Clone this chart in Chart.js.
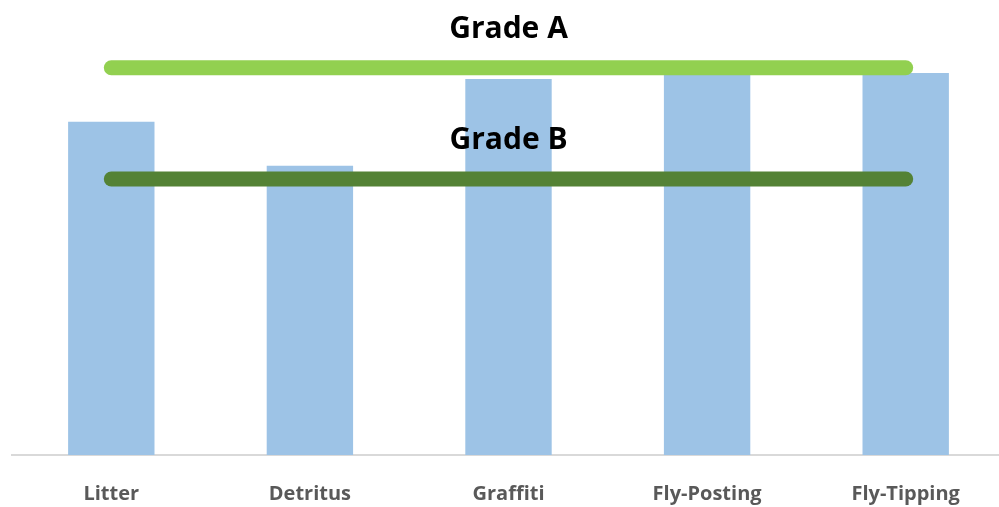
<!DOCTYPE html>
<html>
<head>
<meta charset="utf-8">
<script src="https://cdn.jsdelivr.net/npm/chart.js@4"></script>
<style>
  html, body { margin: 0; padding: 0; background: #fff; overflow: hidden; }
</style>
</head>
<body>
<canvas id="gradeChart" width="1005" height="507"></canvas>
<script>
const categories = ['Litter', 'Detritus', 'Graffiti', 'Fly-Posting', 'Fly-Tipping'];
const scores = [83.3, 72.3, 94, 96, 95.5];
const gradeA = [96.8, 96.8, 96.8, 96.8, 96.8];
const gradeB = [69, 69, 69, 69, 69];

// writes "Grade A" / "Grade B" above the middle of each line
const gradeLabels = {
    id: 'gradeLabels',
    afterDatasetsDraw(chart) {
        const ctx = chart.ctx;
        ctx.save();
        ctx.font = 'bold 30px "Open Sans"';
        ctx.fillStyle = '#000';
        ctx.textAlign = 'center';
        ctx.textBaseline = 'alphabetic';
        [0, 1].forEach(function(i) {
            const pt = chart.getDatasetMeta(i).data[2];
            ctx.fillText(chart.data.datasets[i].label, pt.x, pt.y - 30);
        });
        ctx.restore();
    }
};

new Chart(document.getElementById('gradeChart').getContext('2d'), {
    data: {
        labels: categories,
        datasets: [{
            type: 'line',
            label: 'Grade A',
            data: gradeA,
            borderColor: '#92d050',
            borderWidth: 15,
            borderCapStyle: 'round',
            pointRadius: 0,
            order: 0
        }, {
            type: 'line',
            label: 'Grade B',
            data: gradeB,
            borderColor: '#548235',
            borderWidth: 15,
            borderCapStyle: 'round',
            pointRadius: 0,
            order: 0
        }, {
            type: 'bar',
            label: 'Score',
            data: scores,
            backgroundColor: '#9dc3e6',
            categoryPercentage: 1,
            barPercentage: 0.435,
            order: 1
        }]
    },
    options: {
        responsive: false,
        animation: false,
        layout: { padding: { top: 55, left: 12, right: 0, bottom: 0 } },
        plugins: {
            legend: { display: false },
            tooltip: { enabled: false }
        },
        scales: {
            x: {
                grid: { display: false },
                border: { display: true, color: '#d9d9d9', width: 2 },
                ticks: {
                    color: '#595959',
                    font: { family: '"Open Sans"', size: 20, weight: 'bold' },
                    padding: 19
                },
                afterFit: function(scale) { scale.height = 52; }
            },
            y: {
                display: false,
                min: 0,
                max: 100
            }
        }
    },
    plugins: [gradeLabels]
});
</script>
</body>
</html>
